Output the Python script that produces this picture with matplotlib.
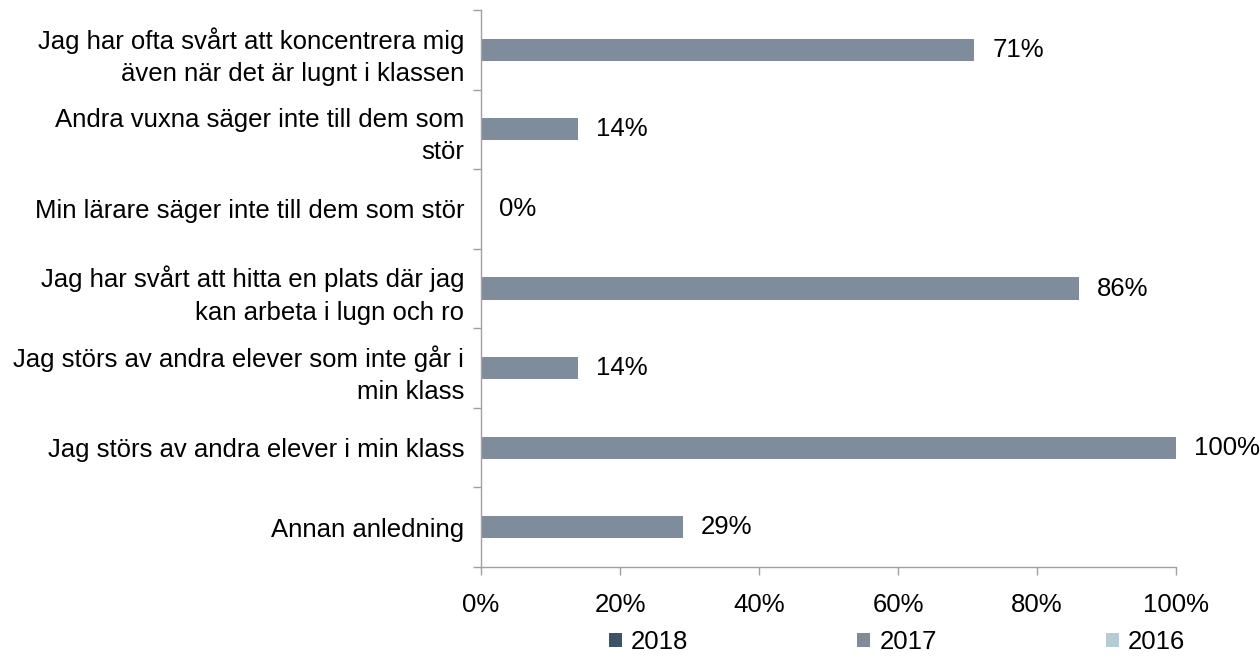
import matplotlib
matplotlib.use("Agg")
import matplotlib.pyplot as plt
import numpy as np
from matplotlib.ticker import FixedLocator, PercentFormatter

plt.rcParams['font.family'] = ['Liberation Sans', 'DejaVu Sans']

categories = [
    "Jag har ofta svårt att koncentrera mig\näven när det är lugnt i klassen",
    "Andra vuxna säger inte till dem som\nstör",
    "Min lärare säger inte till dem som stör",
    "Jag har svårt att hitta en plats där jag\nkan arbeta i lugn och ro",
    "Jag störs av andra elever som inte går i\nmin klass",
    "Jag störs av andra elever i min klass",
    "Annan anledning",
]
series_names = ["2018", "2017", "2016"]
values_2018 = [None] * 7
values_2017 = [71, 14, 0, 86, 14, 100, 29]
values_2016 = [None] * 7
colors = ["#3d5468", "#7f8c9b", "#b7cbd6"]

FS = 18.5

fig = plt.figure(figsize=(12.6, 6.58), dpi=100)
ax = fig.add_axes([481/1260, 1-567/658, (1176-481)/1260, (567-10)/658])

n = len(categories)
y = np.arange(n)
h = 0.28
offsets = [-h, 0, h]
for vals, name, col, off in zip([values_2018, values_2017, values_2016], series_names, colors, offsets):
    v = np.array([np.nan if x is None else x for x in vals], dtype=float)
    ax.barh(y + off, np.nan_to_num(v), height=h, color=col, label=name)
    for yi, val in zip(y, v):
        if not np.isnan(val):
            ax.annotate(f"{val:.0f}%", (val, yi + off), xytext=(18, 0), textcoords="offset pixels",
                        va="center", ha="left", fontsize=FS, color="#000000")

ax.set_ylim(n - 0.5, -0.5)
ax.set_xlim(0, 100)
ax.set_yticks(y)
ax.set_yticklabels(categories, fontsize=FS, linespacing=1.45)
ax.tick_params(axis='y', which='major', length=0, pad=12)
ax.yaxis.set_minor_locator(FixedLocator(np.arange(-0.5, n, 1.0)))
ax.tick_params(axis='y', which='minor', length=6, color="#a0a0a0", width=1)
ax.set_xticks(np.arange(0, 101, 20))
ax.xaxis.set_major_formatter(PercentFormatter(decimals=0))
ax.tick_params(axis='x', length=6, color="#a0a0a0", width=1, labelsize=FS, pad=13)
for s in ["top", "right"]:
    ax.spines[s].set_visible(False)
for s in ["left", "bottom"]:
    ax.spines[s].set_color("#a0a0a0")
    ax.spines[s].set_linewidth(1)

handles, labels = ax.get_legend_handles_labels()
fig.legend(handles, labels, loc="center", bbox_to_anchor=(897/1260, 1-642/658), ncol=3,
           frameon=False, fontsize=FS, handlelength=0.5, handleheight=0.5,
           handletextpad=0.35, columnspacing=6.6)

fig.savefig("out.png", dpi=100)
